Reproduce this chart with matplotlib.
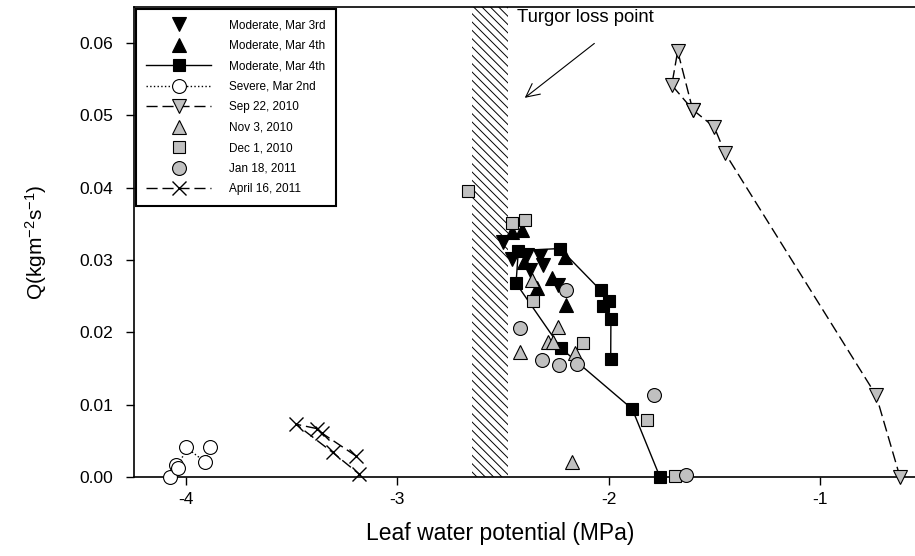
import matplotlib
matplotlib.use("Agg")
import matplotlib.pyplot as plt

plt.rcParams['font.family'] = ['Liberation Sans', 'DejaVu Sans']
plt.rcParams['mathtext.default'] = 'regular'
plt.rcParams['axes.unicode_minus'] = False
plt.rcParams['hatch.linewidth'] = 0.7

# leaf water potential (MPa) and Q (kg m-2 s-1) per series
mar3_x = [-2.498, -2.459, -2.388, -2.325, -2.309, -2.372, -2.240]
mar3_y = [0.0325, 0.0302, 0.0307, 0.0305, 0.0293, 0.0286, 0.0265]

mar4_tri_x = [-2.459, -2.412, -2.270, -2.341, -2.206, -2.202, -2.400]
mar4_tri_y = [0.0339, 0.0342, 0.0275, 0.0261, 0.0304, 0.0238, 0.0298]

mar4_sq_x = [-1.990, -1.989, -2.028, -1.997, -2.037, -2.230, -2.427, -2.438, -2.225, -1.888, -1.757]
mar4_sq_y = [0.0163, 0.0218, 0.0236, 0.0243, 0.0258, 0.0316, 0.0313, 0.0268, 0.0178, 0.0094, 0.0]

severe_x = [-4.076, -4.047, -4.036, -4.000, -3.910, -3.886]
severe_y = [0.0000, 0.0017, 0.0012, 0.0041, 0.0021, 0.0041]

sep_x = [-1.602, -1.673, -1.701, -1.602, -1.500, -1.449, -0.734, -0.621]
sep_y = [0.0508, 0.0589, 0.0542, 0.0508, 0.0484, 0.0448, 0.0113, 0.0000]

nov_x = [-2.364, -2.238, -2.285, -2.261, -2.419, -2.159, -2.175]
nov_y = [0.0272, 0.0208, 0.0187, 0.0187, 0.0173, 0.0171, 0.0021]

dec_x = [-2.664, -2.459, -2.396, -2.356, -2.123, -1.820, -1.686]
dec_y = [0.0395, 0.0351, 0.0356, 0.0244, 0.0185, 0.0079, 0.0002]

jan_x = [-2.202, -2.419, -2.317, -2.233, -2.151, -1.784, -1.636]
jan_y = [0.0258, 0.0206, 0.0162, 0.0155, 0.0156, 0.0114, 0.0003]

apr_x = [-3.195, -3.358, -3.382, -3.479, -3.306, -3.180]
apr_y = [0.0029, 0.0061, 0.0067, 0.0073, 0.0034, 0.0004]

tlp_range = [-2.647, -2.474]
xticks = [-4, -3, -2, -1]
yticks = [0.00, 0.01, 0.02, 0.03, 0.04, 0.05, 0.06]

gray = '#c0c0c0'
dash = (0, (8, 3.5))

fig = plt.figure(figsize=(9.15, 5.56), dpi=100)
ax = fig.add_axes([0.1464, 0.1421, 0.8536, 0.8453])

ax.axvspan(tlp_range[0], tlp_range[1], facecolor='white', edgecolor='black',
           hatch='\\\\\\\\', linewidth=0, zorder=1)

kw = dict(markeredgecolor='black', markeredgewidth=0.8, clip_on=False, zorder=3)
ax.plot(mar3_x, mar3_y, 'v', color='black', markersize=10, label='Moderate, Mar 3rd', **kw)
ax.plot(mar4_tri_x, mar4_tri_y, '^', color='black', markersize=10, label='Moderate, Mar 4th', **kw)
ax.plot(mar4_sq_x, mar4_sq_y, 's-', color='black', markersize=9, linewidth=1, label='Moderate, Mar 4th', **kw)
ax.plot(severe_x, severe_y, 'o', color='black', linestyle=':', linewidth=1, markerfacecolor='white',
        markersize=10, label='Severe, Mar 2nd', **kw)
ax.plot(sep_x, sep_y, 'v', color='black', linestyle=dash, linewidth=1, markerfacecolor=gray,
        markersize=10, label='Sep 22, 2010', **kw)
ax.plot(nov_x, nov_y, '^', color=gray, markersize=10, label='Nov 3, 2010', **kw)
ax.plot(dec_x, dec_y, 's', color=gray, markersize=9, label='Dec 1, 2010', **kw)
ax.plot(jan_x, jan_y, 'o', color=gray, markersize=10, label='Jan 18, 2011', **kw)
ax.plot(apr_x, apr_y, 'x', color='black', linestyle=dash, linewidth=1, markersize=10,
        markeredgewidth=1, clip_on=False, zorder=3, label='April 16, 2011')

ax.text(-2.434, 0.0635, 'Turgor loss point', fontsize=13.3, va='center', ha='left')
ax.annotate('', xy=(-2.407, 0.0522), xytext=(-2.057, 0.0602),
            arrowprops=dict(arrowstyle='->', lw=0.8, color='black', mutation_scale=24))

ax.set_xlim(-4.246, -0.55)
ax.set_ylim(0, 0.065)
ax.set_xticks(xticks)
ax.set_xticklabels([str(t) for t in xticks])
ax.set_yticks(yticks)
ax.set_yticklabels([f'{t:.2f}' for t in yticks])
ax.tick_params(direction='out', length=6, width=1, labelsize=12.5)
ax.tick_params(axis='y', pad=9)
ax.tick_params(axis='x', pad=5)
for s in ['left', 'bottom', 'top']:
    ax.spines[s].set_linewidth(1.2)
ax.spines['right'].set_visible(False)

ax.set_xlabel('Leaf water potential (MPa)', fontsize=16.5)
ax.xaxis.set_label_coords(0.4686, -0.095)
ax.set_ylabel(r'Q(kgm$^{-2}$s$^{-1}$)', fontsize=15, labelpad=22)

leg = ax.legend(loc='upper left', bbox_to_anchor=(0, 1), borderaxespad=0.15, fontsize=8.5,
                frameon=True, fancybox=False, edgecolor='black', framealpha=1,
                handlelength=5.5, handletextpad=1.5, labelspacing=0.72, borderpad=0.9,
                numpoints=1, markerscale=1.0)
leg.get_frame().set_linewidth(1.5)

fig.savefig('out.png', dpi=100, facecolor='white')
plt.close(fig)
